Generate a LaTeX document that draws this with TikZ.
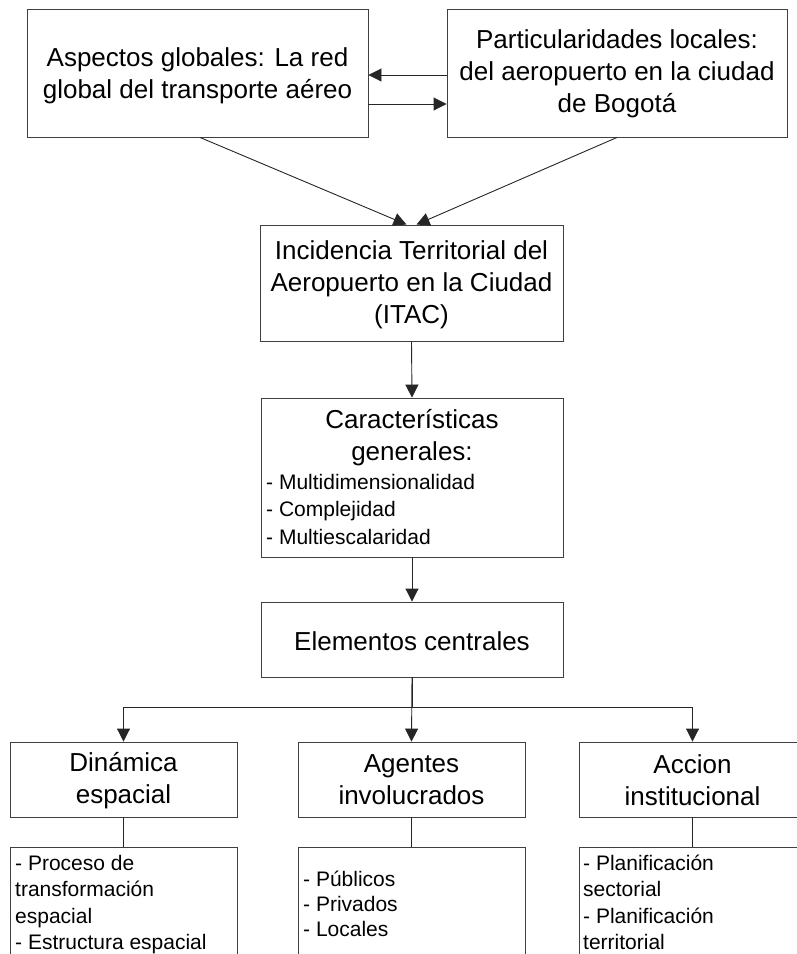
\documentclass[tikz,border=0pt]{standalone}
\usepackage{fontspec}
\setmainfont{Liberation Sans}
\usetikzlibrary{arrows.meta,calc}
\tikzset{
  box/.style={draw=black!75, line width=0.9pt, inner sep=0pt, minimum width=#1},
  big/.style={font=\fontsize{26}{32}\selectfont, align=center, inner sep=0pt},
  small/.style={font=\fontsize{21}{26.3}\selectfont, align=left, inner sep=0pt},
  arr/.style={draw=black!85, line width=0.9pt, -{Triangle[length=13pt,width=13pt]}},
  ln/.style={draw=black!85, line width=0.9pt}
}
\begin{document}
\begin{tikzpicture}[x=1pt,y=-1pt]
\clip (0,0) rectangle (797,954);
\fill[white] (0,0) rectangle (797,954);
% top row
\node[box=341pt, minimum height=128pt] (tl) at (197.5,73) {};
\node[big] (tlt) at (197.5,76) {Aspectos globales: La red\\global del transporte aéreo};
\node[box=340pt, minimum height=128pt] (tr) at (617,73) {};
\node[big] (trt) at (617,74) {Particularidades locales:\\del aeropuerto en la ciudad\\de Bogotá};
% ITAC
\node[box=303pt, minimum height=116pt] (itac) at (411.5,283) {};
\node[big] (itact) at (411.5,285) {Incidencia Territorial del\\Aeropuerto en la Ciudad\\(ITAC)};
% Caracteristicas
\node[box=302pt, minimum height=159pt] (car) at (412,477.5) {};
\node[big] (cart) at (412,438) {Características\\generales:};
\node[small, anchor=west, font=\fontsize{21}{27.5}\selectfont] (carl) at (266,509) {- Multidimensionalidad\\- Complejidad\\- Multiescalaridad};
% Elementos
\node[box=302pt, minimum height=75pt] (elem) at (412,639.5) {};
\node[big] (elemt) at (412,641) {Elementos centrales};
% third row
\node[box=227pt, minimum height=75pt] (din) at (123.5,779.5) {};
\node[big] (dint) at (123.5,781) {Dinámica\\espacial};
\node[box=227pt, minimum height=75pt] (age) at (411.5,779.5) {};
\node[big] (aget) at (411.5,780) {Agentes\\involucrados};
\node[box=227pt, minimum height=75pt] (acc) at (692.5,779.5) {};
\node[big] (acct) at (692.5,780) {Accion\\institucional};
% lower boxes
\node[box=227pt, minimum height=140pt] (dinl) at (123.5,917) {};
\node[small, anchor=north west] (dinlt) at (15,855) {- Proceso de\\transformación\\espacial\\- Estructura espacial};
\node[box=227pt, minimum height=140pt] (agel) at (411.5,917) {};
\node[small, anchor=west, font=\fontsize{21}{25}\selectfont] (agelt) at (303,904) {- Públicos\\- Privados\\- Locales};
\node[box=227pt, minimum height=140pt] (accl) at (692.5,917) {};
\node[small, anchor=north west] (acclt) at (583,855) {- Planificación\\sectorial\\- Planificación\\territorial};
% connectors
\draw[arr] ($(tr.west)+(0,2)$) -- ($(tl.east)+(0,2)$);
\draw[arr] ($(tl.east)+(0,31)$) -- ($(tr.west)+(0,31)$);
\draw[arr] ($(tl.south)+(2.5,0)$) -- ($(itac.north)+(-5,0)$);
\draw[arr] (tr.south) -- ($(itac.north)+(5,0)$);
\draw[arr] (itac.south) -- (car.north);
\draw[arr] (car.south) -- (elem.north);
\coordinate (bl) at (123.5,707);
\coordinate (brr) at (692.5,707);
\draw[arr] (elem.south) -- (age.north);
\draw[arr] (elem.south) |- (bl) -- (din.north);
\draw[arr] (elem.south) |- (brr) -- (acc.north);
\draw[ln] (din.south) -- (dinl.north);
\draw[ln] (age.south) -- (agel.north);
\draw[ln] (acc.south) -- (accl.north);
\end{tikzpicture}
\end{document}
